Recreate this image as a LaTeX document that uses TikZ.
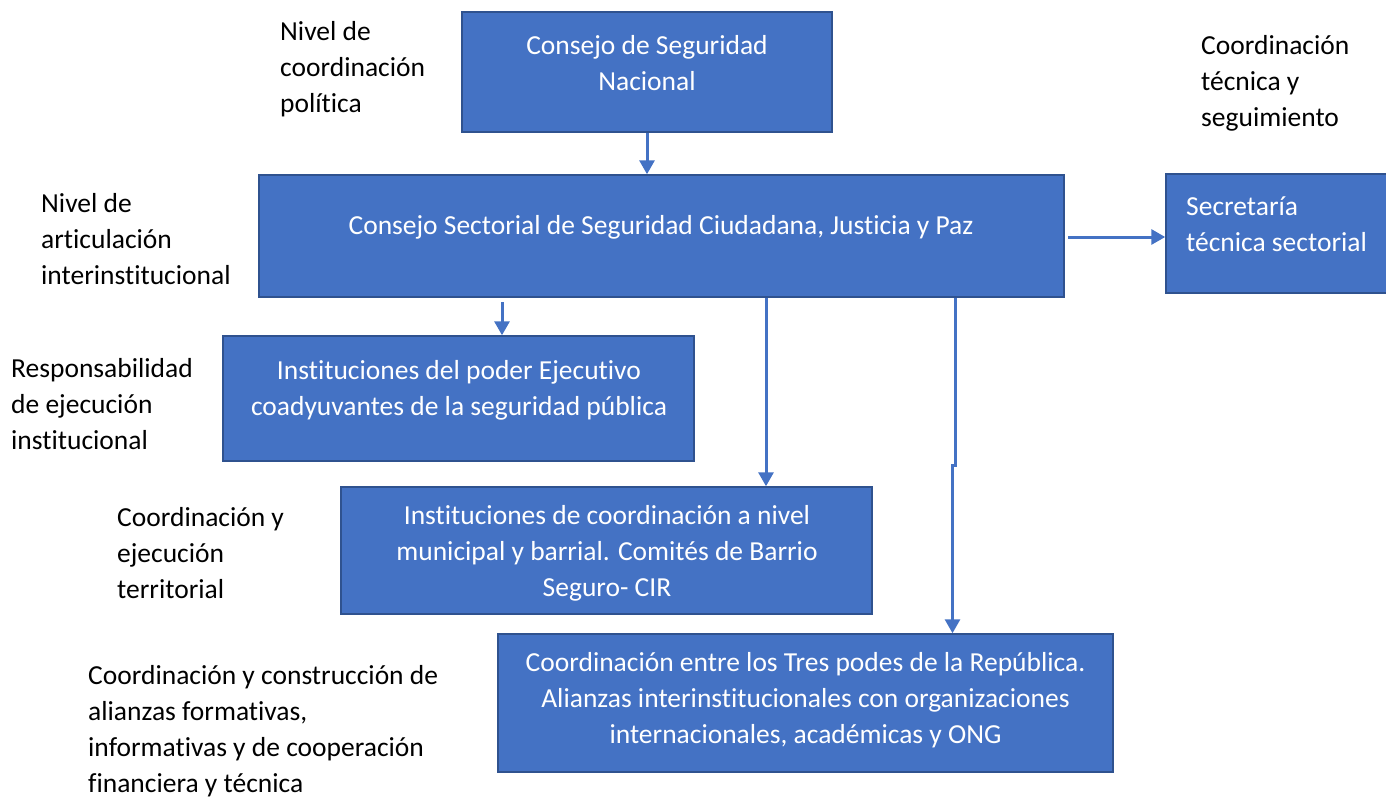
\documentclass[tikz,border=0pt]{standalone}
\usepackage{fontspec}
\setmainfont[Ligatures={NoCommon}]{Carlito}
\usetikzlibrary{arrows.meta}
\definecolor{boxfill}{HTML}{4472C4}
\definecolor{boxline}{HTML}{2F528F}
\definecolor{arrowc}{HTML}{4472C4}
\begin{document}
\begin{tikzpicture}[x=1pt,y=-1pt,
  box/.style={draw=boxline, line width=1.5pt, fill=boxfill, inner sep=0pt},
  wt/.style={text=white, font=\fontsize{27.5}{36}\selectfont, align=center, inner sep=0pt},
  lbl/.style={text=black, font=\fontsize{27.5}{36}\selectfont, align=left, anchor=west, inner sep=0pt},
  arr/.style={draw=arrowc, line width=3pt, -{Triangle[width=15pt,length=14pt]}}]
\useasboundingbox (0,0) rectangle (1386,798);
\fill[white] (0,0) rectangle (1386,798);
% boxes
\node[box, minimum width=370pt, minimum height=120pt] (b1) at (647,72) {};
\node[box, minimum width=805pt, minimum height=122pt] (b2) at (661.5,236) {};
\node[box, minimum width=230pt, minimum height=119pt] (b3) at (1281,233.5) {};
\node[box, minimum width=471pt, minimum height=125pt] (b4) at (458.5,398.5) {};
\node[box, minimum width=531pt, minimum height=127pt] (b5) at (606.5,550.5) {};
\node[box, minimum width=615pt, minimum height=138pt] (b6) at (805.5,703) {};
% box texts
\node[wt] (t1) at (647,63) {Consejo de Seguridad\\Nacional};
\node[wt] (t2) at (661,227) {Consejo Sectorial de Seguridad Ciudadana, Justicia y Paz};
\node[wt, align=left, anchor=west] (t3) at (1186,224) {Secretaría\\técnica sectorial};
\node[wt] (t4) at (459,390) {Instituciones del poder Ejecutivo\\coadyuvantes de la seguridad pública};
\node[wt] (t5) at (607,553) {Instituciones de coordinación a nivel\\municipal y barrial. Comités de Barrio\\Seguro- CIR};
\node[wt] (t6) at (805.5,700) {Coordinación entre los Tres podes de la República.\\Alianzas interinstitucionales con organizaciones\\internacionales, académicas y ONG};
% side labels
\node[lbl] (l1) at (280,69) {Nivel de\\coordinación\\política};
\node[lbl] (l2) at (1201,83) {Coordinación\\técnica y\\seguimiento};
\node[lbl] (l3) at (41,239) {Nivel de\\articulación\\interinstitucional};
\node[lbl] (l4) at (11,404) {Responsabilidad\\de ejecución\\institucional};
\node[lbl] (l5) at (117,553) {Coordinación y\\ejecución\\territorial};
\node[lbl] (l6) at (88,731) {Coordinación y construcción de\\alianzas formativas,\\informativas y de cooperación\\financiera y técnica};
% connectors
\draw[arr] (b1.south) -- (b1.south |- b2.north);
\draw[arr] (502,302) -- (502,0 |- b4.north);
\draw[arr] (766,0 |- b2.south) -- (766,0 |- b5.north);
\draw[arr] (955,0 |- b2.south) -- (955,465) -- (952.5,465) -- (952.5,0 |- b6.north);
\draw[arr] (1068,237) -- (b3.west |- 0,237);
\end{tikzpicture}
\end{document}
